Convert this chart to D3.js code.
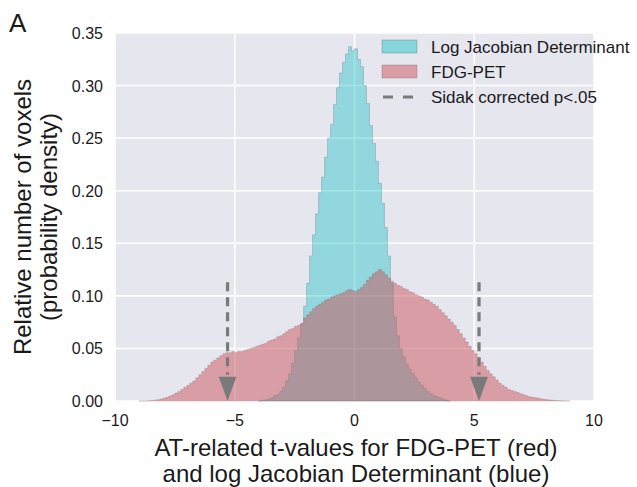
<!DOCTYPE html>
<html>
<head>
<meta charset="utf-8">
<script src="https://cdn.jsdelivr.net/npm/d3@7"></script>
<style>
  html, body { margin: 0; padding: 0; background: #ffffff; }
  svg { display: block; }
  text { font-family: "Liberation Sans", Arial, Helvetica, sans-serif; fill: #1a1a1a; }
</style>
</head>
<body>
<svg id="chart" width="637" height="487"></svg>
<script>
// ---------------- data ----------------
const xTicks = [-10, -5, 0, 5, 10];
const yTicks = [0.00, 0.05, 0.10, 0.15, 0.20, 0.25, 0.30, 0.35];
const binWidth = 0.125;

// Log Jacobian Determinant t-value histogram (density), bins start at -4
const ljdStart = -4;
const ljdDensity = [
  0.000, 0.001, 0.001, 0.002, 0.003, 0.005, 0.006, 0.009,
  0.013, 0.019, 0.026, 0.036, 0.048, 0.060, 0.073, 0.090,
  0.112, 0.138, 0.158, 0.178, 0.198, 0.213, 0.232, 0.250,
  0.263, 0.282, 0.298, 0.312, 0.322, 0.330, 0.337, 0.333,
  0.335, 0.325, 0.318, 0.300, 0.283, 0.262, 0.245, 0.228,
  0.207, 0.188, 0.165, 0.138, 0.112, 0.080, 0.062, 0.050,
  0.042, 0.035, 0.030, 0.026, 0.022, 0.018, 0.015, 0.012,
  0.009, 0.007, 0.005, 0.004, 0.003, 0.002, 0.001, 0.000
];

// FDG-PET t-value histogram (density), bins start at -9
const fdgStart = -9;
const fdgDensity = [
  0.0000, 0.0000, 0.0000, 0.0002, 0.0004, 0.0008, 0.0012, 0.0018,
  0.0025, 0.0035, 0.0048, 0.0060, 0.0075, 0.0090, 0.0110, 0.0130,
  0.015, 0.017, 0.019, 0.022, 0.025, 0.028, 0.031, 0.034,
  0.037, 0.039, 0.041, 0.043, 0.045, 0.046, 0.046, 0.047,
  0.046, 0.047, 0.047, 0.048, 0.049, 0.050, 0.051, 0.052,
  0.053, 0.054, 0.055, 0.057, 0.058, 0.059, 0.061, 0.062,
  0.064, 0.066, 0.068, 0.069, 0.071, 0.072, 0.074, 0.079,
  0.082, 0.085, 0.088, 0.090, 0.092, 0.094, 0.096, 0.097,
  0.099, 0.100, 0.101, 0.102, 0.103, 0.105, 0.106, 0.105,
  0.104, 0.106, 0.108, 0.111, 0.115, 0.118, 0.121, 0.123,
  0.125, 0.123, 0.120, 0.117, 0.114, 0.112, 0.110, 0.109,
  0.107, 0.106, 0.104, 0.103, 0.101, 0.100, 0.099, 0.097,
  0.096, 0.094, 0.092, 0.090, 0.087, 0.084, 0.081, 0.078,
  0.075, 0.072, 0.068, 0.064, 0.060, 0.056, 0.052, 0.048,
  0.045, 0.041, 0.037, 0.033, 0.029, 0.026, 0.023, 0.020,
  0.017, 0.015, 0.013, 0.011, 0.010, 0.009, 0.008, 0.007,
  0.0060, 0.0050, 0.0040, 0.0035, 0.0030, 0.0025, 0.0020, 0.0016,
  0.0012, 0.0010, 0.0007, 0.0005, 0.0003, 0.0002, 0.0001, 0.0000
];

// Sidak corrected p<.05 thresholds
const sidakThresholds = [-5.3, 5.2];
const arrowTop = 0.113;

const legendLabels = ["Log Jacobian Determinant", "FDG-PET", "Sidak corrected p<.05"];
const xLabelLines = ["AT-related t-values for FDG-PET (red)", "and log Jacobian Determinant (blue)"];
const yLabelLines = ["Relative number of voxels", "(probability density)"];

// ---------------- layout ----------------
const svg = d3.select("#chart");
const plot = { left: 115, right: 594, top: 33, bottom: 401 };
const x = d3.scaleLinear().domain([-10, 10]).range([plot.left, plot.right]);
const y = d3.scaleLinear().domain([0, 0.35]).range([plot.bottom, plot.top]);

const colors = {
  bg: "#E6E6EF",
  grid: "#FFFFFF",
  ljd: "rgb(0,191,191)",
  fdg: "#C9545B",
  arrow: "#7A7A7A"
};
const ljdOpacity = 0.37;
const fdgOpacity = 0.5;

// background
svg.append("rect")
  .attr("x", plot.left).attr("y", plot.top)
  .attr("width", plot.right - plot.left).attr("height", plot.bottom - plot.top)
  .attr("fill", colors.bg);

// grid
const grid = svg.append("g");
grid.selectAll("line.h").data(yTicks).enter().append("line")
  .attr("x1", plot.left).attr("x2", plot.right)
  .attr("y1", d => y(d)).attr("y2", d => y(d))
  .attr("stroke", colors.grid).attr("stroke-width", 1.6);
grid.selectAll("line.v").data(xTicks).enter().append("line")
  .attr("y1", plot.top).attr("y2", plot.bottom)
  .attr("x1", d => x(d)).attr("x2", d => x(d))
  .attr("stroke", colors.grid).attr("stroke-width", 1.6);

// histograms
function stepPoints(start, vals) {
  const pts = vals.map((v, i) => ({ t: start + i * binWidth, v }));
  pts.push({ t: start + vals.length * binWidth, v: vals[vals.length - 1] });
  return pts;
}
const area = d3.area()
  .x(d => x(d.t)).y0(y(0)).y1(d => y(d.v))
  .curve(d3.curveStepAfter);

svg.append("path")
  .datum(stepPoints(ljdStart, ljdDensity))
  .attr("d", area)
  .attr("fill", colors.ljd).attr("fill-opacity", ljdOpacity)
  .attr("stroke", "#4d6b6b").attr("stroke-opacity", 0.4).attr("stroke-width", 0.7);

svg.append("path")
  .datum(stepPoints(fdgStart, fdgDensity))
  .attr("d", area)
  .attr("fill", colors.fdg).attr("fill-opacity", fdgOpacity)
  .attr("stroke", "#7a4a4e").attr("stroke-opacity", 0.3).attr("stroke-width", 0.7);

// Sidak arrows
const headLen = 0.023, headHalfW = 0.37;
const arrows = svg.append("g");
sidakThresholds.forEach(t => {
  arrows.append("line")
    .attr("x1", x(t)).attr("x2", x(t))
    .attr("y1", y(arrowTop)).attr("y2", y(headLen) - 2)
    .attr("stroke", colors.arrow).attr("stroke-width", 3.2)
    .attr("stroke-dasharray", "9,6");
  arrows.append("path")
    .attr("d", d3.line()([
      [x(t - headHalfW), y(headLen)],
      [x(t + headHalfW), y(headLen)],
      [x(t), y(0)]
    ]) + "Z")
    .attr("fill", colors.arrow);
});

// tick labels
svg.append("g").selectAll("text").data(yTicks).enter().append("text")
  .attr("x", 103).attr("y", d => y(d) + 6)
  .attr("text-anchor", "end").attr("font-size", 16)
  .text(d => d3.format(".2f")(d));
svg.append("g").selectAll("text").data(xTicks).enter().append("text")
  .attr("x", d => x(d)).attr("y", 426)
  .attr("text-anchor", "middle").attr("font-size", 16)
  .text(d => d < 0 ? "\u2212" + Math.abs(d) : String(d));

// axis labels
svg.append("g").selectAll("text").data(xLabelLines).enter().append("text")
  .attr("x", 356).attr("y", (d, i) => 456 + i * 26)
  .attr("text-anchor", "middle").attr("font-size", 24)
  .text(d => d);
svg.append("g").selectAll("text").data(yLabelLines).enter().append("text")
  .attr("transform", (d, i) => `translate(${31 + i * 26},217) rotate(-90)`)
  .attr("text-anchor", "middle").attr("font-size", 24)
  .text(d => d);

// panel letter
svg.append("text").attr("x", 9).attr("y", 32).attr("font-size", 26).text("A");

// legend
const leg = svg.append("g");
const legY = [53, 78, 103];
leg.append("rect").attr("x", 382).attr("y", 40).attr("width", 35).attr("height", 13)
  .attr("fill", colors.ljd).attr("fill-opacity", ljdOpacity + 0.05)
  .attr("stroke", "#4d6b6b").attr("stroke-opacity", 0.4).attr("stroke-width", 0.8);
leg.append("rect").attr("x", 382).attr("y", 65).attr("width", 35).attr("height", 13)
  .attr("fill", colors.fdg).attr("fill-opacity", fdgOpacity)
  .attr("stroke", "#7a4a4e").attr("stroke-opacity", 0.35).attr("stroke-width", 0.8);
leg.append("line").attr("x1", 383).attr("x2", 416).attr("y1", 97).attr("y2", 97)
  .attr("stroke", colors.arrow).attr("stroke-width", 3.2).attr("stroke-dasharray", "10,10");
leg.selectAll("text").data(legendLabels).enter().append("text")
  .attr("x", 431).attr("y", (d, i) => legY[i])
  .attr("font-size", 17).text(d => d);
</script>
</body>
</html>
